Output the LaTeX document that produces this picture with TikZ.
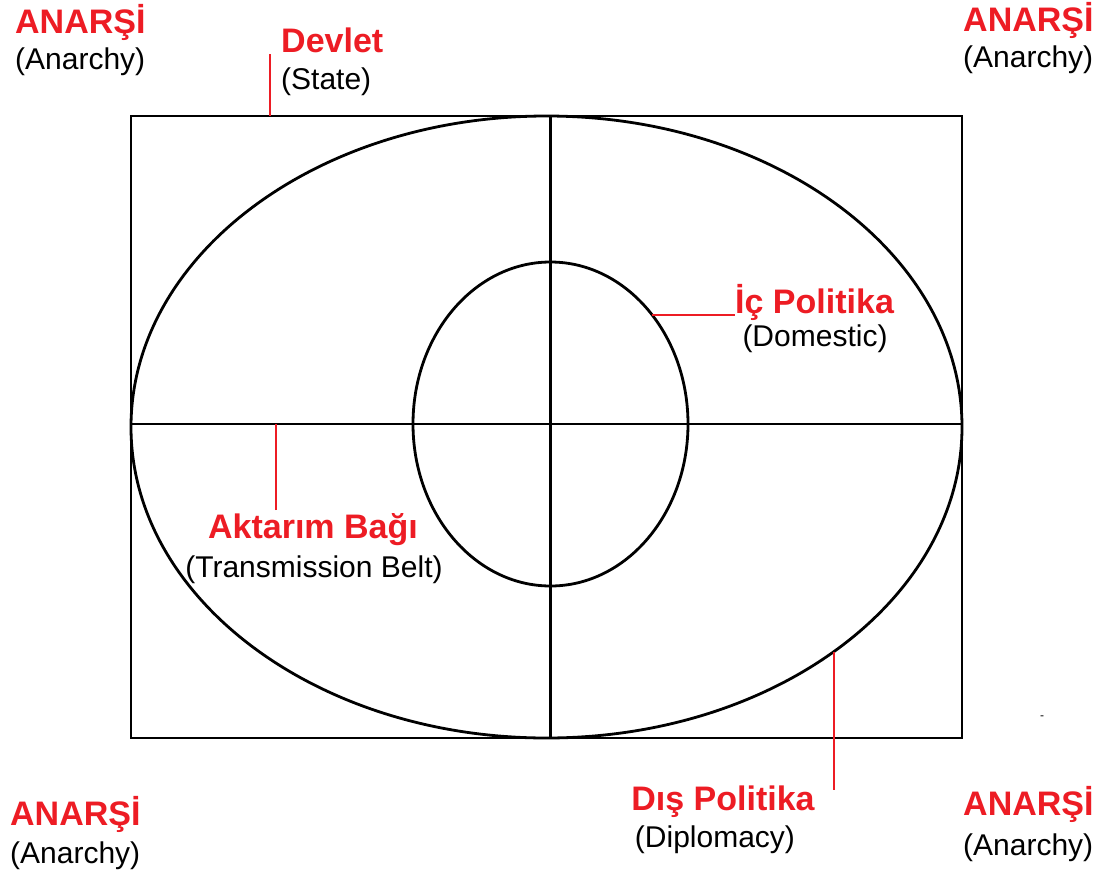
\documentclass[tikz,border=0pt]{standalone}
\usepackage{fontspec}
\setmainfont{Liberation Sans}
\usetikzlibrary{shapes.geometric}
\definecolor{paintred}{HTML}{ED1C24}

\begin{document}
\begin{tikzpicture}[
  x=1pt, y=-1pt,
  frame/.style={draw, line width=2.8pt, inner sep=0pt, outer sep=0pt},
  title/.style={text=paintred, font=\fontsize{34}{40}\selectfont\bfseries, inner sep=0pt},
  gloss/.style={font=\fontsize{30}{36}\selectfont, inner sep=0pt},
  pointer/.style={draw=paintred, line width=2.4pt}
]
\useasboundingbox (0,0) rectangle (1108,870);
\fill[white] (0,0) rectangle (1108,870);

% state box and the two spheres
\node[frame, rectangle, minimum width=831pt, minimum height=622pt] (state) at (546.5,427) {};
\node[frame, ellipse, minimum width=831pt, minimum height=622pt] (outer) at (546.5,427) {};
\node[frame, ellipse, minimum width=275pt, minimum height=324pt] (inner) at (550.5,424) {};
\draw[line width=2.8pt] (state.north -| inner.center) -- (state.south -| inner.center);
\draw[line width=2.8pt] (state.west |- inner.center) -- (state.east |- inner.center);

% anarchy in the four corners
\node[title, anchor=base west] (anarsiTL) at (15,33) {ANARŞİ};
\node[gloss, anchor=base west] (anarchyTL) at (15,69) {(Anarchy)};
\node[title, anchor=base west] (anarsiTR) at (963,31) {ANARŞİ};
\node[gloss, anchor=base west] (anarchyTR) at (963,67) {(Anarchy)};
\node[title, anchor=base west] (anarsiBL) at (10,825) {ANARŞİ};
\node[gloss, anchor=base west] (anarchyBL) at (10,863) {(Anarchy)};
\node[title, anchor=base west] (anarsiBR) at (963,815) {ANARŞİ};
\node[gloss, anchor=base west] (anarchyBR) at (963,855) {(Anarchy)};

% labels
\node[title, anchor=base west] (devlet) at (281,52) {Devlet};
\node[gloss, anchor=base west] (state label) at (281,89) {(State)};
\node[title, anchor=base west] (ic) at (735,313) {İç Politika};
\node[gloss, anchor=base] (domestic) at (815,346) {(Domestic)};
\node[title, anchor=base] (aktarim) at (313,538) {Aktarım Bağı};
\node[gloss, anchor=base] (belt) at (314,577) {(Transmission Belt)};
\node[title, anchor=base] (dis) at (723,810) {Dış Politika};
\node[gloss, anchor=base] (diplomacy) at (715,847) {(Diplomacy)};
\node[inner sep=0pt, font=\fontsize{12}{14}\selectfont] (stray) at (1042,718) {-};

% pointers
\coordinate (devlet tip) at (270,54);
\coordinate (aktarim tip) at (276,510);
\coordinate (dis tip) at (832,790);
\draw[pointer] (devlet tip) -- (devlet tip |- state.north);
\draw[pointer] (inner.47) -- (inner.47 -| ic.west);
\draw[pointer] (aktarim tip) -- (aktarim tip |- inner.center);
\draw[pointer] (outer.-38) -- (outer.-38 |- dis tip);
\end{tikzpicture}
\end{document}
